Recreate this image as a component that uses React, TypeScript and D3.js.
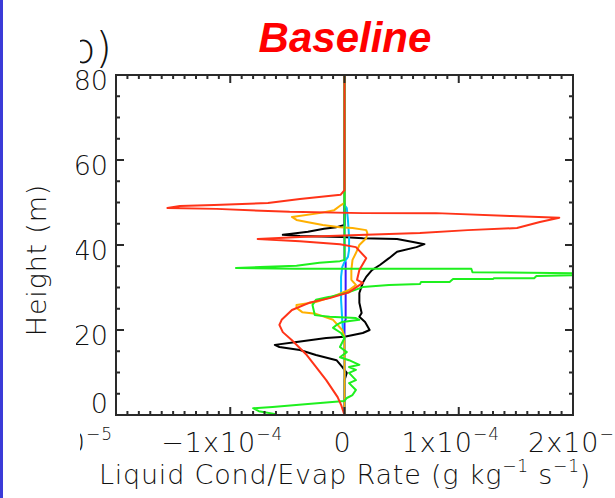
import { useEffect, useRef } from "react";
import * as d3 from "d3";

const W = 615;
const H = 498;

// rates in units of 1e-4 g kg-1 s-1, heights in m
const redH = [80, 52.9, 51.8, 50.8, 49.9, 49.4, 49.2, 48.7, 48.5, 47.8, 47.5, 47.5, 46.8, 46.4, 45.4, 44.0, 43.5, 42.8, 42.4, 41.9, 41.4, 40.9, 40.2, 39.5, 36.9, 34.1, 31.8, 31.1, 28.9, 27.5, 26.4, 24.7, 22.4, 21.2, 19.5, 17.6, 14.1, 11.3, 8.2, 4.2, 2.4, 0];
const redRate = [0, 0, -0.035, -0.39, -0.67, -1.14, -1.44, -1.55, -1.12, -0.48, 0.16, 0.8, 1.46, 1.88, 1.71, 1.51, 1.08, 0.66, 0.19, -0.39, -0.76, -0.39, -0.04, 0.1, 0.19, 0.13, 0.11, 0.16, 0.04, -0.13, -0.31, -0.46, -0.55, -0.57, -0.54, -0.46, -0.33, -0.25, -0.16, -0.06, -0.03, 0];

const blackH = [80, 44.7, 44.2, 43.8, 43.1, 42.6, 42.4, 42.1, 41.9, 41.6, 41.4, 40.7, 40.2, 39.5, 38.4, 36.9, 35.3, 34.1, 32.5, 31.1, 28.7, 26.4, 24.0, 23.1, 21.9, 20.0, 19.3, 18.4, 18.1, 17.2, 16.5, 16.0, 15.3, 14.1, 12.9, 11.3, 9.9, 8.2, 0];
const blackRate = [0, 0, -0.07, -0.18, -0.32, -0.48, -0.54, -0.39, -0.02, 0.16, 0.46, 0.6, 0.7, 0.63, 0.46, 0.39, 0.31, 0.24, 0.19, 0.16, 0.13, 0.13, 0.15, 0.13, 0.18, 0.22, 0.16, 0, -0.16, -0.42, -0.61, -0.57, -0.39, -0.25, -0.07, -0.02, 0.02, 0, 0];

const orangeH = [80, 49.9, 49.4, 48.2, 47.5, 46.6, 45.9, 45.4, 44.7, 44.2, 44.0, 43.5, 42.8, 41.6, 40.0, 38.1, 36.5, 34.1, 31.8, 30.6, 29.4, 27.8, 26.6, 25.9, 25.2, 24.2, 23.8, 22.4, 20.0, 18.4, 0];
const orangeRate = [0, 0, -0.03, -0.09, -0.22, -0.46, -0.42, -0.33, -0.19, -0.04, 0.07, 0.19, 0.2, 0.19, 0.13, 0.1, 0.07, 0.06, 0.06, 0.1, 0.04, -0.11, -0.25, -0.42, -0.42, -0.37, -0.25, -0.1, -0.02, 0, 0];

const greenH = [80, 36.5, 36.2, 35.8, 35.1, 34.8, 34.6, 34.4, 34.4, 33.6, 33.3, 32.9, 32.7, 32.2, 32.2, 32.0, 32.0, 31.3, 31.3, 30.8, 30.6, 30.1, 28.9, 27.8, 27.1, 25.9, 23.5, 23.1, 22.8, 22.4, 21.9, 21.2, 20.5, 19.3, 18.1, 16.0, 14.8, 13.6, 12.9, 11.8, 11.3, 10.6, 9.9, 8.2, 7.5, 5.9, 4.7, 4.0, 3.3, 2.6, 1.9, 1.6, 0.9, 0.2];
const greenRate = [0, 0, -0.04, -0.22, -0.42, -0.74, -0.95, -0.42, 1.11, 1.12, 2.15, 1.99, 1.68, 1.66, 1.31, 1.3, 0.95, 0.92, 0.67, 0.66, 0.39, 0.16, 0.04, -0.13, -0.25, -0.28, -0.26, -0.13, 0.1, 0.13, -0.02, -0.07, -0.1, -0.03, 0, -0.04, 0.02, -0.04, 0.04, 0.13, 0.04, 0.1, 0.04, 0.1, 0.04, 0.1, 0.07, 0.02, 0, -0.32, -0.63, -0.8, -0.75, -0.6];

const cyanH = [80, 49.4, 48.7, 45.9, 41.9, 38.8, 37.2, 36.0, 34.8, 32.5, 27.1, 22.4, 18.8, 18.1, 0];
const cyanRate = [0, 0, 0.02, 0.03, 0.04, 0.04, 0.03, 0, -0.02, -0.03, -0.03, -0.02, -0.01, 0, 0];

const blueH = [80, 36.5, 36.0, 22.4, 22.0, 0];
const blueRate = [0, 0, 0.01, 0.01, 0, 0];

const xTicks = [-2, -1, 0, 1, 2];
const xTickMant = ["\u22122x10", "\u22121x10", "0", "1x10", "2x10"];
const xTickExp = ["\u22125", "\u22124", "", "\u22124", "\u22124"];
const yTicks = [0, 20, 40, 60, 80];

const series = [
  { h: blackH, r: blackRate, color: "#000000" },
  { h: blueH, r: blueRate, color: "#3a1aff" },
  { h: cyanH, r: cyanRate, color: "#00c0ff" },
  { h: orangeH, r: orangeRate, color: "#ffb000" },
  { h: greenH, r: greenRate, color: "#1ef01e" },
  { h: redH, r: redRate, color: "#ff3318" },
];

export default function App() {
  const ref = useRef<SVGSVGElement>(null);

  useEffect(() => {
    if (!ref.current) return;
    const svg = d3.select(ref.current);
    svg.selectAll("*").remove();

    const left = 116, right = 573, top = 75, bottom = 415;
    const x = d3.scaleLinear().domain([-2, 2]).range([left, right]);
    const y = d3.scaleLinear().domain([0, 80]).range([bottom, top]);
    const font = "DejaVu Sans, sans-serif";
    const ink = "#111";
    const wt = 200;

    svg.append("rect").attr("width", W).attr("height", H).attr("fill", "#fff");
    // slide border on the left
    svg.append("rect").attr("x", 0).attr("y", 0).attr("width", 3).attr("height", H).attr("fill", "#3b3bd8");

    const defs = svg.append("defs");
    defs.append("clipPath").attr("id", "plotclip")
      .append("rect").attr("x", left).attr("y", top).attr("width", right - left).attr("height", bottom - top);
    defs.append("clipPath").attr("id", "cropclip")
      .append("rect").attr("x", 76).attr("y", 0).attr("width", W).attr("height", H);
    defs.append("clipPath").attr("id", "panelclip")
      .append("rect").attr("x", 80).attr("y", 0).attr("width", W).attr("height", H);

    // profiles
    const line = d3.line<[number, number]>()
      .x((d) => x(d[0]))
      .y((d) => y(d[1]));
    const g = svg.append("g").attr("clip-path", "url(#plotclip)");
    series.forEach((s) => {
      g.append("path")
        .datum(d3.zip(s.r, s.h) as [number, number][])
        .attr("fill", "none")
        .attr("stroke", s.color)
        .attr("stroke-width", 2)
        .attr("stroke-linejoin", "round")
        .attr("d", line);
    });

    // axes (ticks pointing inwards)
    const minorX = d3.range(-2, 2.001, 0.1);
    const minorY = d3.range(0, 80.001, 5);
    const axis = svg.append("g").attr("stroke", "#2a2a2a").attr("stroke-width", 2);
    const isMajorX = (v: number) => Math.abs(v - Math.round(v)) < 1e-6;
    const isMajorY = (v: number) => v % 20 === 0;
    minorX.forEach((v) => {
      const len = isMajorX(v) ? 8 : 4;
      axis.append("line").attr("x1", x(v)).attr("x2", x(v)).attr("y1", bottom).attr("y2", bottom - len);
      axis.append("line").attr("x1", x(v)).attr("x2", x(v)).attr("y1", top).attr("y2", top + len);
    });
    minorY.forEach((v) => {
      const len = isMajorY(v) ? 8 : 4;
      axis.append("line").attr("x1", left).attr("x2", left + len).attr("y1", y(v)).attr("y2", y(v));
      axis.append("line").attr("x1", right).attr("x2", right - len).attr("y1", y(v)).attr("y2", y(v));
    });
    axis.append("rect").attr("x", left).attr("y", top).attr("width", right - left).attr("height", bottom - top).attr("fill", "none");

    // tick labels
    const lab = svg.append("g").attr("font-family", font).attr("font-weight", wt).attr("fill", ink);
    yTicks.forEach((v) => {
      lab.append("text")
        .attr("clip-path", "url(#cropclip)")
        .attr("x", left - 8)
        .attr("y", v === 0 ? y(v) - 2 : y(v) + 15)
        .attr("text-anchor", "end")
        .attr("font-size", 27)
        .text(String(v));
    });
    xTicks.forEach((v, i) => {
      const first = i === 0;
      const last = i === xTicks.length - 1;
      const t = lab.append("text")
        .attr("clip-path", first ? "url(#panelclip)" : null)
        .attr("x", first ? x(v) - 3 : last ? x(v) - 45 : x(v) - (v === 0 ? 2 : 8))
        .attr("y", 452)
        .attr("text-anchor", first ? "end" : last ? "start" : "middle")
        .attr("font-size", 27)
        .attr("letter-spacing", 1);
      t.append("tspan").text(xTickMant[i]);
      if (xTickExp[i]) t.append("tspan").attr("dy", -12).attr("font-size", 17).text(xTickExp[i]);
    });

    // axis titles
    const xt = svg.append("text")
      .attr("x", 345).attr("y", 484)
      .attr("text-anchor", "middle")
      .attr("font-family", font).attr("font-weight", wt).attr("font-size", 27)
      .attr("letter-spacing", 0.8).attr("fill", ink);
    xt.append("tspan").text("Liquid Cond/Evap Rate (g kg");
    xt.append("tspan").attr("dy", -12).attr("font-size", 17).text("\u22121");
    xt.append("tspan").attr("dy", 12).text(" s");
    xt.append("tspan").attr("dy", -12).attr("font-size", 17).text("\u22121");
    xt.append("tspan").attr("dy", 12).text(")");

    svg.append("text")
      .attr("transform", "translate(46,260) rotate(-90)")
      .attr("text-anchor", "middle")
      .attr("font-family", font).attr("font-weight", wt).attr("font-size", 27)
      .attr("letter-spacing", 0.8).attr("fill", ink)
      .text("Height (m)");

    // panel letter (cropped) and title
    svg.append("text")
      .attr("clip-path", "url(#panelclip)")
      .attr("x", 112).attr("y", 63)
      .attr("text-anchor", "end")
      .attr("font-family", font).attr("font-weight", wt).attr("font-size", 42).attr("fill", ink)
      .text("(b)");

    svg.append("text")
      .attr("x", 345).attr("y", 52)
      .attr("text-anchor", "middle")
      .attr("font-family", "Liberation Sans, Arial, sans-serif")
      .attr("font-weight", "bold").attr("font-style", "italic")
      .attr("font-size", 42).attr("fill", "#ff0000")
      .text("Baseline");
  }, []);

  return <svg ref={ref} width={W} height={H} style={{ position: "fixed", left: 0, top: 0 }} />;
}
